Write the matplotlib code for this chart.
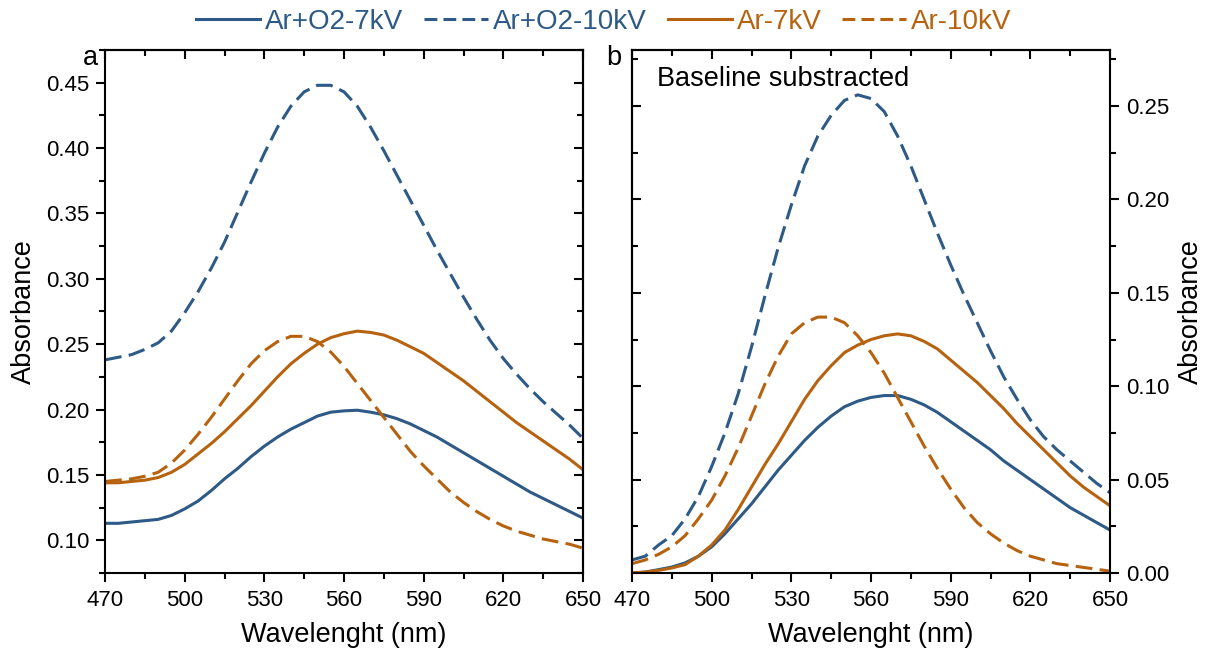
import matplotlib
matplotlib.use("Agg")
import matplotlib.pyplot as plt
from matplotlib.ticker import MultipleLocator, FixedLocator, FormatStrFormatter
from matplotlib.lines import Line2D

plt.rcParams["font.family"] = ["Liberation Sans", "DejaVu Sans"]

# Wavelength grid (nm)
wavelength = list(range(470, 651, 5))

# Panel a: raw absorbance
a_arO2_7kV = [0.113, 0.113, 0.114, 0.115, 0.116, 0.119, 0.124, 0.130, 0.138, 0.147,
              0.155, 0.164, 0.172, 0.179, 0.185, 0.190, 0.195, 0.198, 0.199, 0.1995,
              0.198, 0.196, 0.193, 0.189, 0.184, 0.179, 0.173, 0.167, 0.161, 0.155,
              0.149, 0.143, 0.137, 0.132, 0.127, 0.122, 0.117]
a_arO2_10kV = [0.238, 0.240, 0.242, 0.246, 0.251, 0.260, 0.274, 0.290, 0.308, 0.328,
               0.351, 0.374, 0.396, 0.416, 0.432, 0.443, 0.448, 0.448, 0.443, 0.432,
               0.416, 0.398, 0.379, 0.360, 0.341, 0.322, 0.304, 0.286, 0.269, 0.253,
               0.239, 0.227, 0.216, 0.206, 0.197, 0.188, 0.178]
a_ar_7kV = [0.144, 0.144, 0.145, 0.146, 0.148, 0.152, 0.158, 0.166, 0.174, 0.183,
            0.193, 0.203, 0.214, 0.225, 0.235, 0.243, 0.250, 0.255, 0.258, 0.260,
            0.259, 0.257, 0.253, 0.248, 0.243, 0.236, 0.229, 0.222, 0.214, 0.206,
            0.198, 0.190, 0.183, 0.176, 0.169, 0.162, 0.154]
a_ar_10kV = [0.145, 0.146, 0.147, 0.149, 0.152, 0.159, 0.169, 0.181, 0.194, 0.208,
             0.222, 0.235, 0.245, 0.252, 0.256, 0.256, 0.252, 0.244, 0.233, 0.220,
             0.207, 0.194, 0.181, 0.168, 0.157, 0.147, 0.137, 0.129, 0.122, 0.116,
             0.111, 0.107, 0.104, 0.101, 0.099, 0.097, 0.094]

# Panel b: baseline-subtracted absorbance
b_arO2_7kV = [0.000, 0.0005, 0.0018, 0.0032, 0.0054, 0.009, 0.014, 0.021, 0.029, 0.037,
              0.046, 0.055, 0.063, 0.071, 0.078, 0.084, 0.089, 0.092, 0.094, 0.095,
              0.095, 0.093, 0.090, 0.086, 0.081, 0.076, 0.071, 0.066, 0.060, 0.055,
              0.050, 0.045, 0.040, 0.035, 0.031, 0.027, 0.023]
b_arO2_10kV = [0.007, 0.009, 0.015, 0.020, 0.029, 0.041, 0.057, 0.075, 0.096, 0.121,
               0.148, 0.174, 0.197, 0.218, 0.234, 0.245, 0.253, 0.256, 0.254, 0.247,
               0.234, 0.218, 0.200, 0.182, 0.165, 0.149, 0.134, 0.119, 0.105, 0.093,
               0.082, 0.073, 0.066, 0.060, 0.054, 0.048, 0.043]
b_ar_7kV = [0.000, 0.0005, 0.0014, 0.0027, 0.0045, 0.009, 0.015, 0.023, 0.034, 0.046,
            0.058, 0.069, 0.081, 0.093, 0.103, 0.111, 0.118, 0.122, 0.125, 0.127,
            0.128, 0.127, 0.124, 0.120, 0.114, 0.108, 0.102, 0.095, 0.088, 0.080,
            0.073, 0.066, 0.059, 0.052, 0.046, 0.041, 0.036]
b_ar_10kV = [0.005, 0.007, 0.010, 0.014, 0.020, 0.029, 0.039, 0.052, 0.067, 0.084,
             0.101, 0.116, 0.128, 0.134, 0.137, 0.137, 0.134, 0.127, 0.118, 0.107,
             0.094, 0.081, 0.068, 0.056, 0.045, 0.035, 0.027, 0.021, 0.016, 0.012,
             0.009, 0.007, 0.005, 0.004, 0.003, 0.002, 0.001]

labels = ["Ar+O2-7kV", "Ar+O2-10kV", "Ar-7kV", "Ar-10kV"]
BLUE = "#2D5A86"
ORANGE = "#B6620F"
colors = [BLUE, BLUE, ORANGE, ORANGE]
styles = ["solid", "dashed", "solid", "dashed"]
DASH = (5.5, 2.4)
LW = 2.2

TICK_FS = 16
LABEL_FS = 19.5

x_major = list(range(470, 651, 30))
x_minor = list(range(470, 651, 15))

fig = plt.figure(figsize=(12.05, 6.55), dpi=100)
ax_a = fig.add_axes([105 / 1205, 1 - 573 / 655, 478 / 1205, 523 / 655])
ax_b = fig.add_axes([632 / 1205, 1 - 573 / 655, 478 / 1205, 523 / 655])


def draw(ax, series):
    for y, c, s in zip(series, colors, styles):
        if s == "dashed":
            ax.plot(wavelength, y, color=c, lw=LW, dashes=DASH)
        else:
            ax.plot(wavelength, y, color=c, lw=LW, solid_capstyle="round")


draw(ax_a, [a_arO2_7kV, a_arO2_10kV, a_ar_7kV, a_ar_10kV])
draw(ax_b, [b_arO2_7kV, b_arO2_10kV, b_ar_7kV, b_ar_10kV])


def style_axes(ax, ylim, ymaj, ymin, yside):
    ax.set_xlim(470, 650)
    ax.set_ylim(*ylim)
    for sp in ax.spines.values():
        sp.set_linewidth(1.5)
    ax.xaxis.set_major_locator(FixedLocator(x_major))
    ax.xaxis.set_minor_locator(FixedLocator(x_minor))
    ax.yaxis.set_major_locator(MultipleLocator(ymaj))
    ax.yaxis.set_minor_locator(MultipleLocator(ymin))
    ax.yaxis.set_major_formatter(FormatStrFormatter("%.2f"))
    ax.tick_params(which="both", direction="out", width=1.5, labelsize=TICK_FS,
                   top=False, right=False, left=False, bottom=True)
    ax.tick_params(which="major", length=6.5)
    ax.tick_params(which="minor", length=4)
    ax.tick_params(axis="x", which="major", pad=6)
    ax.tick_params(axis="y", which="major", pad=5)
    if yside == "left":
        ax.tick_params(axis="y", which="both", left=True, labelleft=True)
    else:
        ax.tick_params(axis="y", which="both", right=True, labelright=True,
                       left=False, labelleft=False)
        ax.yaxis.set_label_position("right")

    # mirrored inward ticks on the opposite sides
    top = ax.secondary_xaxis("top")
    top.xaxis.set_major_locator(FixedLocator(x_major))
    top.xaxis.set_minor_locator(FixedLocator(x_minor))
    top.tick_params(which="both", direction="in", width=1.5, labeltop=False)
    top.tick_params(which="major", length=6.5)
    top.tick_params(which="minor", length=4.5)
    top.spines["top"].set_linewidth(1.5)

    other = "right" if yside == "left" else "left"
    sec = ax.secondary_yaxis(other)
    sec.yaxis.set_major_locator(MultipleLocator(ymaj))
    sec.yaxis.set_minor_locator(MultipleLocator(ymin))
    sec.tick_params(which="both", direction="in", width=1.5,
                    labelright=False, labelleft=False)
    sec.tick_params(which="major", length=6.5)
    sec.tick_params(which="minor", length=4.5)
    sec.spines[other].set_linewidth(1.5)

    ax.set_xlabel("Wavelenght (nm)", fontsize=LABEL_FS, labelpad=8)
    ax.set_ylabel("Absorbance", fontsize=LABEL_FS, labelpad=6)


style_axes(ax_a, (0.075, 0.475), 0.05, 0.025, "left")
style_axes(ax_b, (0.0, 0.28), 0.05, 0.025, "right")

fig.text(90 / 1205, 1 - 58 / 655, "a", fontsize=LABEL_FS, ha="center", va="center")
fig.text(614 / 1205, 1 - 58 / 655, "b", fontsize=LABEL_FS, ha="center", va="center")
ax_b.text(0.052, 0.945, "Baseline substracted", transform=ax_b.transAxes,
          fontsize=LABEL_FS, ha="left", va="center")

handles = []
for c, s in zip(colors, styles):
    if s == "dashed":
        handles.append(Line2D([], [], color=c, lw=LW, dashes=(4.2, 2.0)))
    else:
        handles.append(Line2D([], [], color=c, lw=LW))
fig.legend(handles, labels, loc="center", bbox_to_anchor=(604 / 1205, 1 - 22 / 655),
           ncol=4, frameon=False, fontsize=20, handlelength=2.3,
           handletextpad=0.18, columnspacing=0.75, labelcolor=colors)

fig.savefig("out.png", dpi=100)
